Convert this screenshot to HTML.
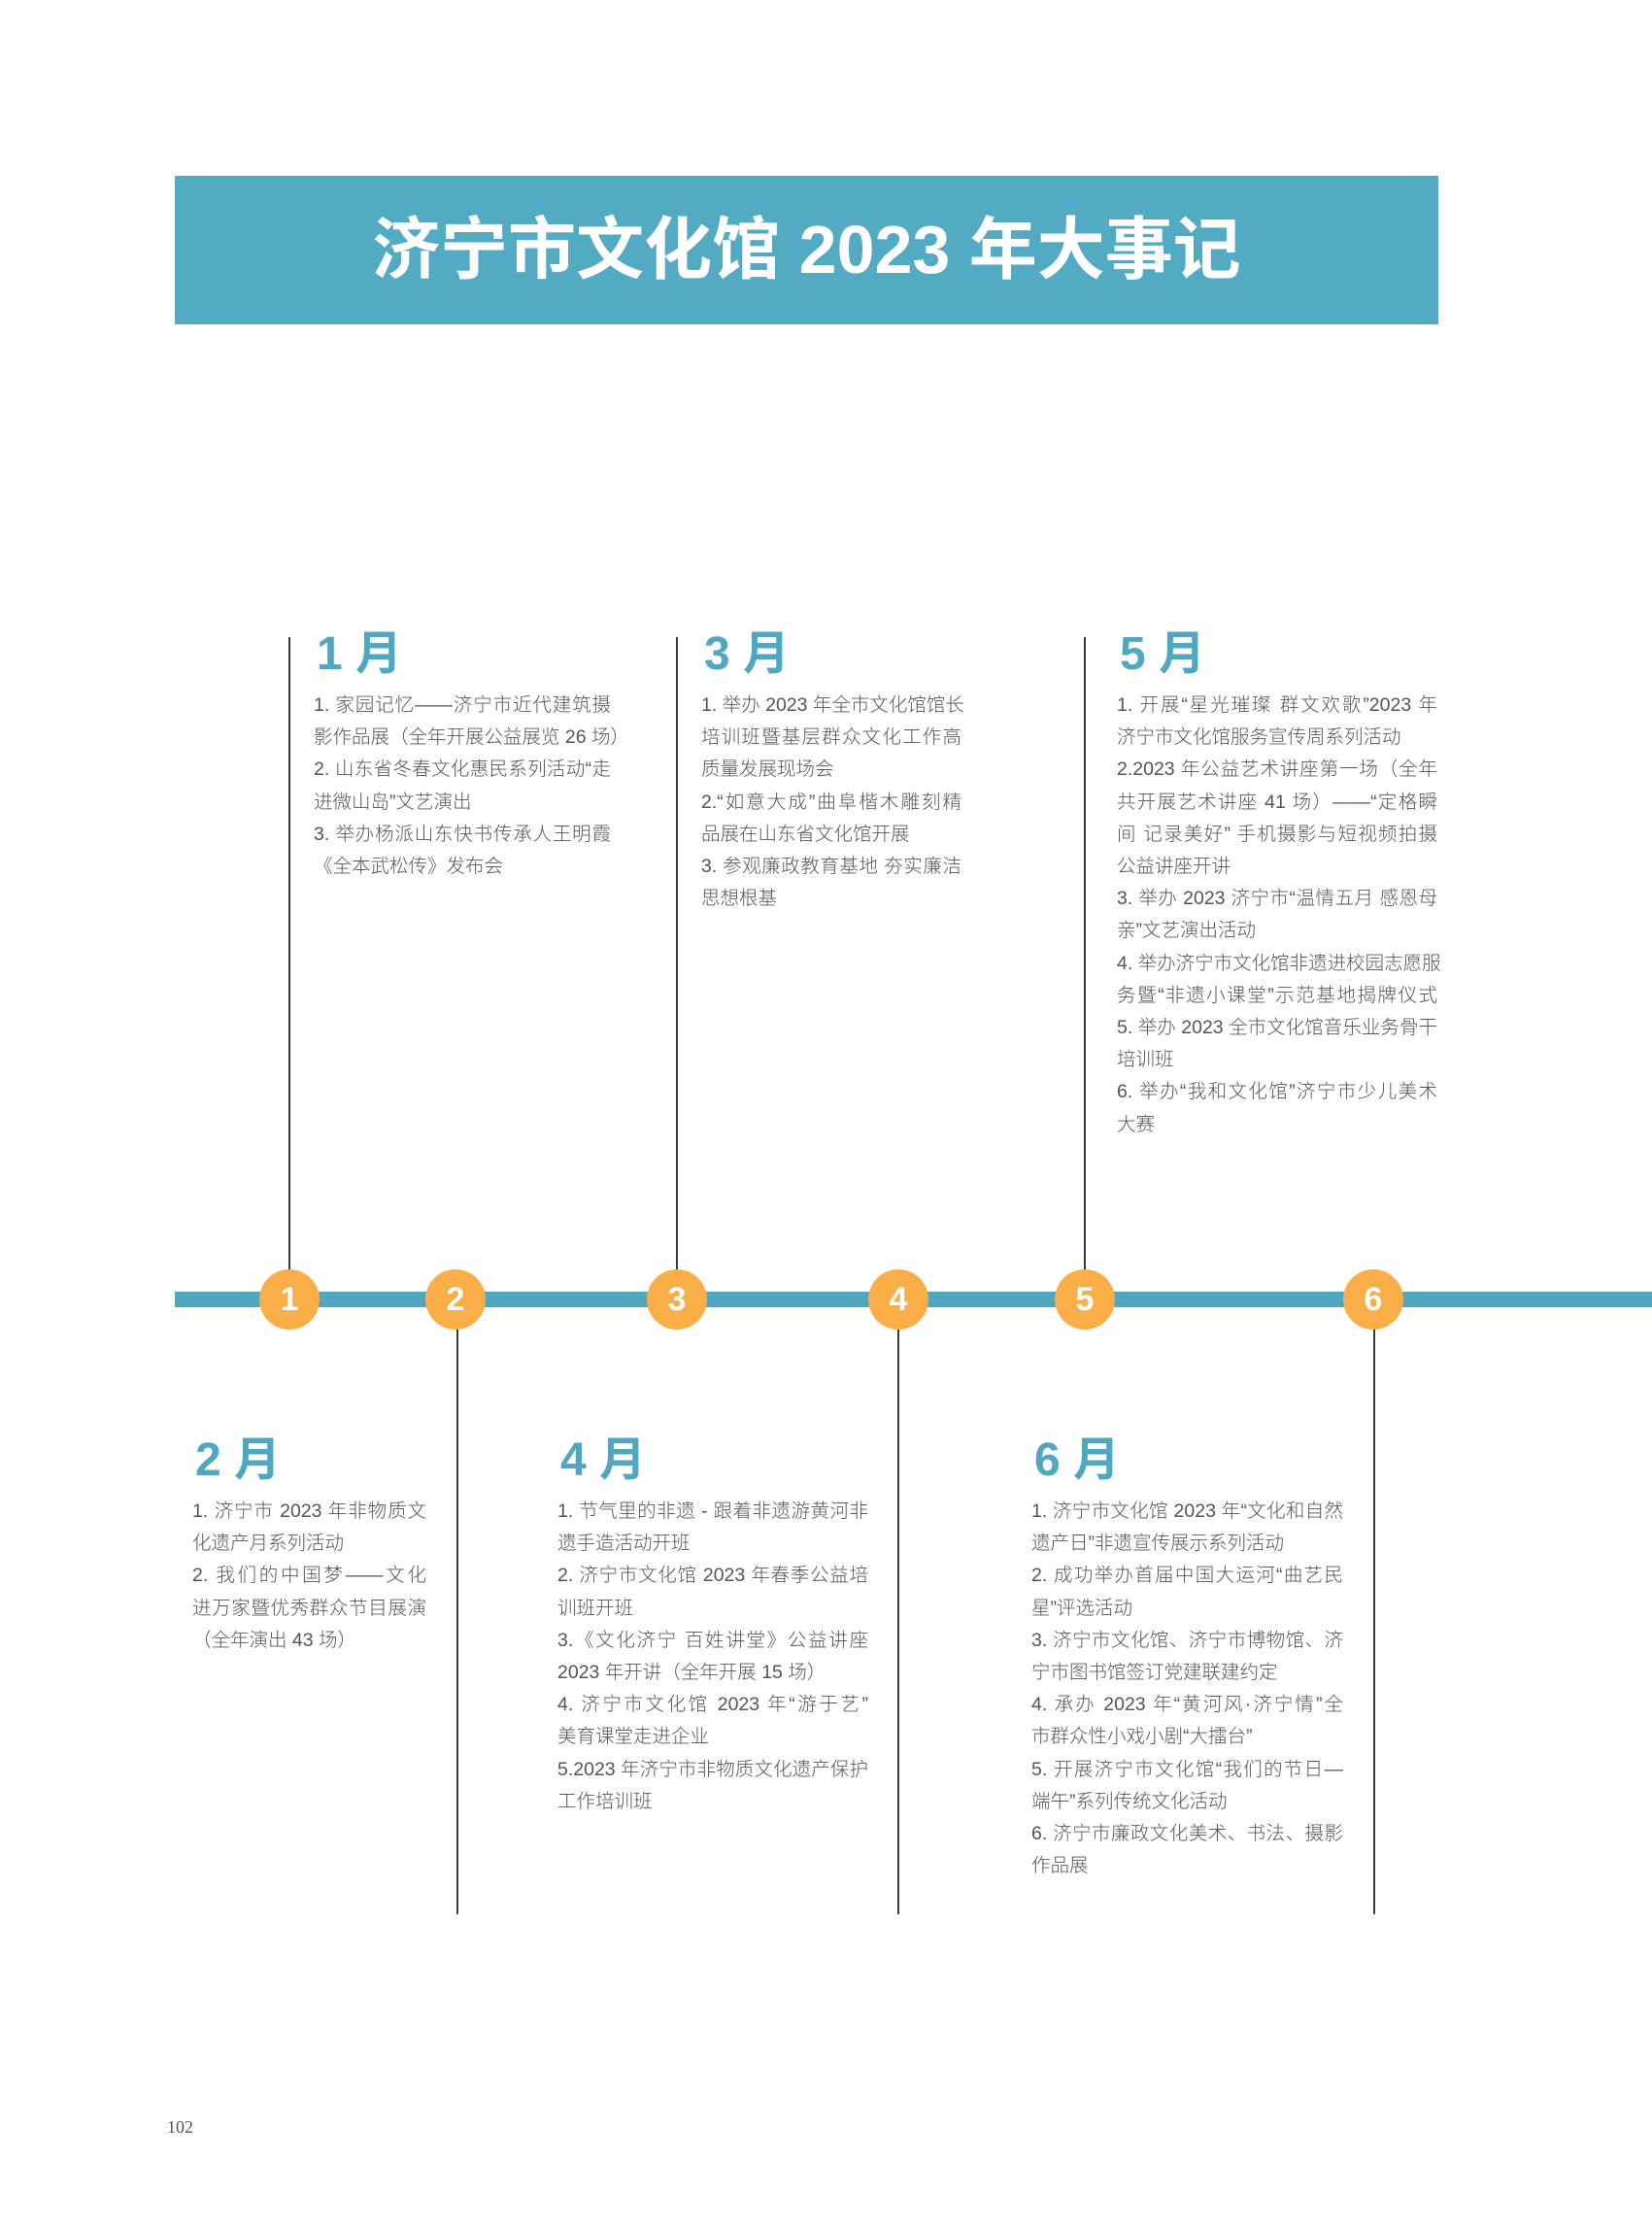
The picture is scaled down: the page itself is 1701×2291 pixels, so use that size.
<!DOCTYPE html>
<html><head><meta charset="utf-8"><style>
*{margin:0;padding:0;box-sizing:border-box}
body{width:1701px;height:2291px;background:#fff;position:relative;overflow:hidden;font-family:"Liberation Sans","Noto Sans CJK SC",sans-serif}
.banner{position:absolute;left:180px;top:181px;width:1301px;height:153px;background:#52aac3}
.title{position:absolute;left:180px;width:1301px;top:212px;text-align:center;color:#fff;font-weight:bold;font-size:70px;line-height:90px}
.bar{position:absolute;left:180px;top:1330px;width:1521px;height:16px;background:#4fa8c0}
.vl{position:absolute;width:2px;background:#3a3a3a}
.c{position:absolute;width:62px;height:62px;border-radius:50%;background:#f9ae48;color:#fff;font-weight:bold;font-size:34px;line-height:62px;text-align:center;top:1307px}
.col{position:absolute}
.h{color:#4fa8c0;font-weight:bold;font-size:48px;line-height:48px;height:60px;padding-left:3px}
.t{color:#555;font-size:19.5px;line-height:33.2px;font-weight:300}
.t div{white-space:nowrap}
.t .j{text-align:justify;text-align-last:justify}
.pn{position:absolute;left:172px;top:2180px;font-family:"Liberation Serif",serif;font-size:18px;color:#555}
</style></head><body>
<div class="banner"></div>
<div class="title">济宁市文化馆 2023 年大事记</div>

<div class="vl" style="left:297px;top:656px;height:660px"></div>
<div class="vl" style="left:696px;top:656px;height:660px"></div>
<div class="vl" style="left:1116px;top:656px;height:660px"></div>
<div class="vl" style="left:470px;top:1360px;height:611px"></div>
<div class="vl" style="left:924px;top:1360px;height:611px"></div>
<div class="vl" style="left:1414px;top:1360px;height:611px"></div>

<div class="bar"></div>
<div class="c" style="left:267px">1</div>
<div class="c" style="left:438px">2</div>
<div class="c" style="left:666px">3</div>
<div class="c" style="left:894px">4</div>
<div class="c" style="left:1086px">5</div>
<div class="c" style="left:1383px">6</div>

<div class="col" style="left:323px;top:650px;width:306px">
<div class="h">1 月</div>
<div class="t">
<div class="j">1. 家园记忆——济宁市近代建筑摄</div>
<div class="j">影作品展（全年开展公益展览 26 场）</div>
<div class="j">2. 山东省冬春文化惠民系列活动“走</div>
<div>进微山岛”文艺演出</div>
<div class="j">3. 举办杨派山东快书传承人王明霞</div>
<div>《全本武松传》发布会</div>
</div></div>

<div class="col" style="left:722px;top:650px;width:268px">
<div class="h">3 月</div>
<div class="t">
<div class="j">1. 举办 2023 年全市文化馆馆长</div>
<div class="j">培训班暨基层群众文化工作高</div>
<div>质量发展现场会</div>
<div class="j">2.“如意大成”曲阜楷木雕刻精</div>
<div>品展在山东省文化馆开展</div>
<div class="j">3. 参观廉政教育基地 夯实廉洁</div>
<div>思想根基</div>
</div></div>

<div class="col" style="left:1150px;top:650px;width:330px">
<div class="h">5 月</div>
<div class="t">
<div class="j">1. 开展“星光璀璨 群文欢歌”2023 年</div>
<div>济宁市文化馆服务宣传周系列活动</div>
<div class="j">2.2023 年公益艺术讲座第一场（全年</div>
<div class="j">共开展艺术讲座 41 场）——“定格瞬</div>
<div class="j">间 记录美好” 手机摄影与短视频拍摄</div>
<div>公益讲座开讲</div>
<div class="j">3. 举办 2023 济宁市“温情五月 感恩母</div>
<div>亲”文艺演出活动</div>
<div class="j">4. 举办济宁市文化馆非遗进校园志愿服</div>
<div class="j">务暨“非遗小课堂”示范基地揭牌仪式</div>
<div class="j">5. 举办 2023 全市文化馆音乐业务骨干</div>
<div>培训班</div>
<div class="j">6. 举办“我和文化馆”济宁市少儿美术</div>
<div>大赛</div>
</div></div>

<div class="col" style="left:198px;top:1480px;width:241px">
<div class="h">2 月</div>
<div class="t">
<div class="j">1. 济宁市 2023 年非物质文</div>
<div>化遗产月系列活动</div>
<div class="j">2. 我们的中国梦——文化</div>
<div class="j">进万家暨优秀群众节目展演</div>
<div>（全年演出 43 场）</div>
</div></div>

<div class="col" style="left:574px;top:1480px;width:320px">
<div class="h">4 月</div>
<div class="t">
<div class="j">1. 节气里的非遗 - 跟着非遗游黄河非</div>
<div>遗手造活动开班</div>
<div class="j">2. 济宁市文化馆 2023 年春季公益培</div>
<div>训班开班</div>
<div class="j">3.《文化济宁 百姓讲堂》公益讲座</div>
<div>2023 年开讲（全年开展 15 场）</div>
<div class="j">4. 济宁市文化馆 2023 年“游于艺”</div>
<div>美育课堂走进企业</div>
<div class="j">5.2023 年济宁市非物质文化遗产保护</div>
<div>工作培训班</div>
</div></div>

<div class="col" style="left:1062px;top:1480px;width:321px">
<div class="h">6 月</div>
<div class="t">
<div class="j">1. 济宁市文化馆 2023 年“文化和自然</div>
<div>遗产日”非遗宣传展示系列活动</div>
<div class="j">2. 成功举办首届中国大运河“曲艺民</div>
<div>星”评选活动</div>
<div class="j">3. 济宁市文化馆、济宁市博物馆、济</div>
<div>宁市图书馆签订党建联建约定</div>
<div class="j">4. 承办 2023 年“黄河风·济宁情”全</div>
<div>市群众性小戏小剧“大擂台”</div>
<div class="j">5. 开展济宁市文化馆“我们的节日—</div>
<div>端午”系列传统文化活动</div>
<div class="j">6. 济宁市廉政文化美术、书法、摄影</div>
<div>作品展</div>
</div></div>

<div class="pn">102</div>
</body></html>
